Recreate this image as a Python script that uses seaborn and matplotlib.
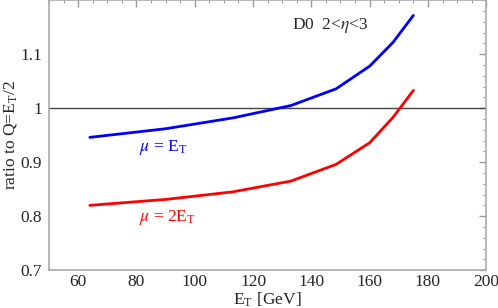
import numpy as np
import pandas as pd
import matplotlib
matplotlib.use("Agg")
import matplotlib.pyplot as plt
import seaborn as sns
from matplotlib.ticker import MultipleLocator, FixedLocator

# datos
et = [64, 90, 113, 133, 148.5, 160, 168, 175]
ratio_mu_et = [0.946, 0.962, 0.982, 1.005, 1.036, 1.078, 1.122, 1.172]
ratio_mu_2et = [0.820, 0.831, 0.845, 0.865, 0.896, 0.936, 0.983, 1.033]

xticks = [60, 80, 100, 120, 140, 160, 180, 200]
yticks = [0.7, 0.8, 0.9, 1.0, 1.1]
yticklabels = ["0.7", "0.8", "0.9", "1", "1.1"]

sns.set_style("white")
plt.rcParams["font.family"] = "serif"
plt.rcParams["font.serif"] = ["Liberation Serif", "DejaVu Serif"]
plt.rcParams["mathtext.fontset"] = "stix"

df = pd.DataFrame({"et": et, "mu1": ratio_mu_et, "mu2": ratio_mu_2et})

fig = plt.figure(figsize=(4.98, 3.08), dpi=100)
ax = fig.add_axes([0.0984, 0.123, 0.878, 0.876])

ax.axhline(1.0, color="#444444", lw=1.0, zorder=1)
sns.lineplot(data=df, x="et", y="mu1", color="#0000ff", lw=2.0, ax=ax)
sns.lineplot(data=df, x="et", y="mu2", color="#ff0000", lw=2.0, ax=ax)

ax.set_xlim(50, 200)
ax.set_ylim(0.7, 1.2)
ax.xaxis.set_major_locator(FixedLocator(xticks))
ax.xaxis.set_minor_locator(MultipleLocator(5))
ax.yaxis.set_major_locator(FixedLocator(yticks))
ax.yaxis.set_minor_locator(MultipleLocator(0.02))
ax.set_yticklabels(yticklabels)

for s in ax.spines.values():
    s.set_color("#aaaaaa")
    s.set_linewidth(1.2)
ax.tick_params(which="both", direction="in", top=True, right=True,
               color="#999999", labelsize=12.5, labeltop=False, labelright=False)
ax.tick_params(axis="x", pad=3)
ax.tick_params(axis="y", pad=5)
ax.tick_params(which="major", length=5, width=1)
ax.tick_params(which="minor", length=2.5, width=0.7)

ax.set_xlabel(r"E$_\mathregular{T}$ [GeV]", fontsize=12.5, labelpad=0)
ax.set_ylabel(r"ratio to Q=E$_\mathregular{T}$/2", fontsize=12.5, labelpad=1)

ax.text(133.5, 1.153, r"D0  2<$\eta$<3", fontsize=12.5, va="center", ha="left")
ax.text(81, 0.928, r"$\mu$ = E$_\mathregular{T}$", fontsize=12.5, color="#0000ff", va="center", ha="left")
ax.text(81, 0.798, r"$\mu$ = 2E$_\mathregular{T}$", fontsize=12.5, color="#ff0000", va="center", ha="left")

fig.savefig("out.png", dpi=100)
